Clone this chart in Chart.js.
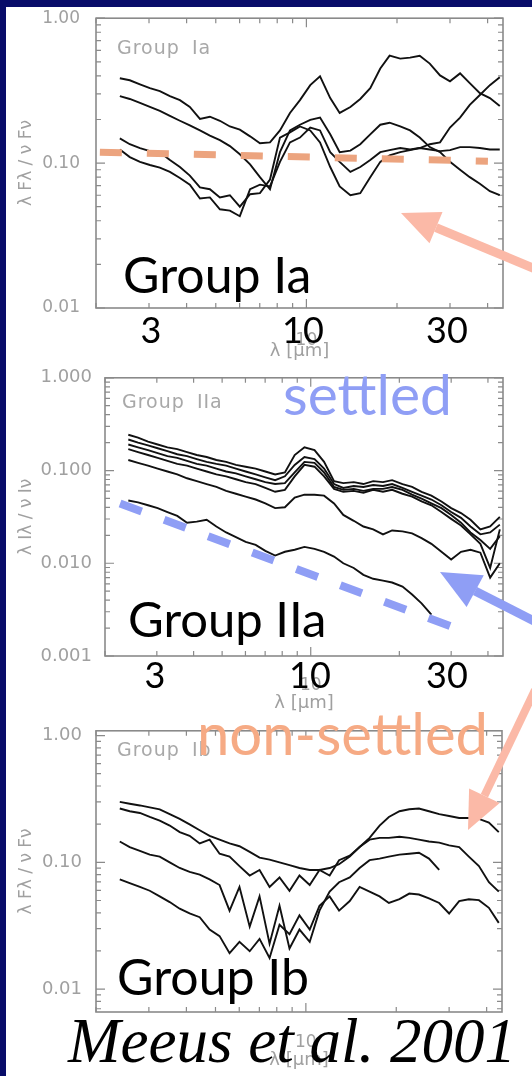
<!DOCTYPE html>
<html lang="en">
<head>
<meta charset="UTF-8">
<title>Meeus et al. 2001 – SED groups</title>
<script src="https://cdn.jsdelivr.net/npm/chart.js"></script>
<style>
  body { margin: 0; width: 532px; height: 1076px; overflow: hidden; position: relative; background: #080c69; }
  .sheet { position: absolute; left: 6px; top: 7px; right: 0; bottom: 0; background: #fff; }
  canvas { position: absolute; left: 0; filter: blur(0.4px); }
  #c1 { top: 0; }
  #c2 { top: 362px; }
  #c3 { top: 714px; }
  #notes { position: absolute; left: 0; top: 0; pointer-events: none; }
  .caption { filter: blur(0.4px); }
</style>
</head>
<body>
<div class="sheet"></div>
<canvas id="c1" width="532" height="362"></canvas>
<canvas id="c2" width="532" height="352"></canvas>
<canvas id="c3" width="532" height="362"></canvas>

<svg id="notes" width="532" height="1076" viewBox="0 0 532 1076">
  <!-- panel captions of the original figure -->
  <g class="caption" font-family="DejaVu Sans" font-size="19" fill="#a8a8a8" letter-spacing="1" word-spacing="5">
    <text x="117" y="54">Group Ia</text>
    <text x="122" y="408">Group IIa</text>
    <text x="117" y="756">Group Ib</text>
  </g>
  <!-- arrows -->
  <line x1="540" y1="271" x2="436" y2="227.6" stroke="#fbb9a7" stroke-width="9"/>
  <polygon points="401,213 442.5,212 429.5,243.3" fill="#fbb9a7"/>
  <line x1="540" y1="624" x2="475" y2="591" stroke="#8f9ef5" stroke-width="9"/>
  <polygon points="440,572 483.8,575.3 466.6,606.9" fill="#8f9ef5"/>
  <line x1="535" y1="690" x2="484.4" y2="795.7" stroke="#fbb9a7" stroke-width="8"/>
  <polygon points="468,830 499.7,803 469.1,788.4" fill="#fbb9a7"/>
  <!-- slide labels -->
  <g font-family="Lato" fill="#000">
    <text x="123" y="293" font-size="50">Group Ia</text>
    <text x="128" y="637" font-size="49">Group IIa</text>
    <text x="117" y="995" font-size="50">Group Ib</text>
    <g font-size="36" text-anchor="middle">
      <text x="151" y="343">3</text>
      <text x="303" y="343">10</text>
      <text x="447" y="343">30</text>
      <text x="155" y="688">3</text>
      <text x="310" y="688">10</text>
      <text x="447" y="688">30</text>
    </g>
  </g>
  <text x="283" y="415" font-family="Lato" font-size="57" fill="#8f9ef5">settled</text>
  <text x="197" y="755" font-family="Lato" font-size="58" fill="#f6aa84">non-settled</text>
  <text x="68" y="1062" font-family="Liberation Serif" font-style="italic" font-size="63" fill="#000">Meeus et al. 2001</text>
</svg>

<script>
  // wavelength grid (µm) shared by all spectra
  const lam = [2.40, 2.59, 2.80, 3.02, 3.26, 3.52, 3.80, 4.10, 4.43, 4.78,
               5.16, 5.57, 6.01, 6.50, 7.01, 7.57, 8.17, 8.82, 9.52, 10.3,
               11.1, 12.0, 12.9, 14.0, 15.1, 16.3, 17.6, 18.9, 20.5, 22.1,
               23.8, 25.7, 27.8, 30.0, 32.4, 34.9, 37.7, 40.7, 43.9];

  // Group Ia
  const ia1 = [0.385, 0.373, 0.350, 0.329, 0.314, 0.290, 0.272, 0.244, 0.202, 0.209,
               0.196, 0.179, 0.170, 0.153, 0.137, 0.139, 0.168, 0.222, 0.272, 0.345,
               0.397, 0.281, 0.222, 0.244, 0.277, 0.329, 0.450, 0.551, 0.526, 0.534,
               0.551, 0.486, 0.403, 0.367, 0.416, 0.356, 0.304, 0.281, 0.248];
  const ia2 = [0.290, 0.277, 0.260, 0.244, 0.229, 0.212, 0.196, 0.182, 0.168, 0.155,
               0.144, 0.131, 0.115, 0.098, 0.080, 0.066, 0.119, 0.168, 0.184, 0.199,
               0.206, 0.158, 0.119, 0.122, 0.135, 0.158, 0.184, 0.190, 0.179, 0.168,
               0.150, 0.129, 0.119, 0.102, 0.090, 0.080, 0.072, 0.064, 0.060];
  const ia3 = [0.148, 0.135, 0.127, 0.121, 0.119, 0.105, 0.094, 0.082, 0.068, 0.066,
               0.058, 0.060, 0.050, 0.061, 0.062, 0.077, 0.150, 0.163, 0.179, 0.168,
               0.139, 0.094, 0.069, 0.060, 0.062, 0.080, 0.102, 0.113, 0.119, 0.123,
               0.127, 0.124, 0.121, 0.123, 0.129, 0.129, 0.127, 0.124, 0.124];
  const ia4 = [0.124, 0.110, 0.102, 0.097, 0.093, 0.087, 0.079, 0.071, 0.057, 0.058,
               0.048, 0.047, 0.043, 0.066, 0.071, 0.069, 0.102, 0.139, 0.150, 0.176,
               0.168, 0.119, 0.102, 0.087, 0.094, 0.105, 0.119, 0.123, 0.127, 0.124,
               0.127, 0.135, 0.139, 0.176, 0.206, 0.252, 0.295, 0.345, 0.391];
  const iaFlatLam = [2.06, 40.1];
  const iaFlat = [0.119, 0.103];

  // Group IIa
  const iia1 = [0.243, 0.226, 0.205, 0.191, 0.178, 0.170, 0.158, 0.147, 0.140, 0.130,
                0.124, 0.115, 0.110, 0.105, 0.0977, 0.0908, 0.0953, 0.147, 0.178, 0.166,
                0.124, 0.0768, 0.0732, 0.0750, 0.0715, 0.0768, 0.0750, 0.0787, 0.0715, 0.0665,
                0.0590, 0.0536, 0.0464, 0.0393, 0.0348, 0.0294, 0.0232, 0.0249, 0.0316];
  const iia2 = [0.216, 0.200, 0.187, 0.174, 0.162, 0.150, 0.143, 0.133, 0.124, 0.118,
                0.113, 0.105, 0.0977, 0.0908, 0.0845, 0.0787, 0.0866, 0.115, 0.140, 0.133,
                0.105, 0.0715, 0.0649, 0.0681, 0.0665, 0.0698, 0.0681, 0.0715, 0.0649, 0.0590,
                0.0536, 0.0487, 0.0422, 0.0357, 0.0309, 0.0249, 0.0205, 0.0215, 0.0261];
  const iia3 = [0.191, 0.178, 0.166, 0.154, 0.143, 0.137, 0.127, 0.118, 0.113, 0.105,
                0.0977, 0.0931, 0.0866, 0.0806, 0.0750, 0.0715, 0.0732, 0.0953, 0.124, 0.121,
                0.0953, 0.0665, 0.0619, 0.0634, 0.0604, 0.0634, 0.0634, 0.0665, 0.0619, 0.0549,
                0.0499, 0.0442, 0.0393, 0.0332, 0.0274, 0.0215, 0.0178, 0.0143, 0.0196];
  const iia4 = [0.170, 0.158, 0.147, 0.137, 0.127, 0.118, 0.113, 0.105, 0.0977, 0.0908,
                0.0866, 0.0806, 0.0750, 0.0715, 0.0649, 0.0590, 0.0619, 0.0866, 0.115, 0.110,
                0.0866, 0.0634, 0.0590, 0.0604, 0.0576, 0.0619, 0.0590, 0.0619, 0.0562, 0.0523,
                0.0464, 0.0422, 0.0357, 0.0301, 0.0255, 0.0205, 0.0162, 0.0089, 0.0232];
  const iia5 = [0.130, 0.121, 0.113, 0.105, 0.0977, 0.0908, 0.0825, 0.0768, 0.0715, 0.0665,
                0.0604, 0.0562, 0.0523, 0.0487, 0.0442, 0.0393, 0.0402, 0.0511, 0.0549, 0.0549,
                0.0536, 0.0442, 0.0332, 0.0287, 0.0249, 0.0232, 0.0205, 0.0226, 0.0221, 0.0210,
                0.0187, 0.0162, 0.0133, 0.0110, 0.0133, 0.0140, 0.0130, 0.0070, 0.0100];
  const iia6 = [0.0475, 0.0453, 0.0422, 0.0393, 0.0357, 0.0324, 0.0274, 0.0281, 0.0294, 0.0249,
                0.0215, 0.0191, 0.0170, 0.0158, 0.0136, 0.0121, 0.0133, 0.0140, 0.0150, 0.0143,
                0.0133, 0.0118, 0.0100, 0.0089, 0.0075, 0.0068, 0.0065, 0.0062, 0.0056, 0.0046,
                0.0037, 0.0028, null, null, null, null, null, null, null];
  const iiaSlopeLam = [2.25, 29.8];
  const iiaSlope = [0.0442, 0.0021];

  // Group Ib
  const ib1 = [0.300, 0.290, 0.281, 0.271, 0.262, 0.240, 0.220, 0.199, 0.179, 0.162,
               0.151, 0.141, 0.134, 0.121, 0.109, 0.105, 0.100, 0.0950, 0.0902, 0.0871,
               0.0871, 0.0902, 0.0967, 0.111, 0.132, 0.156, 0.195, 0.228, 0.253, 0.262,
               0.266, 0.253, 0.240, 0.232, 0.224, 0.224, 0.220, 0.206, 0.173];
  const ib2 = [0.266, 0.253, 0.245, 0.228, 0.213, 0.195, 0.173, 0.162, 0.141, 0.151,
               0.117, 0.111, 0.0934, 0.0787, 0.0871, 0.0640, 0.0760, 0.0597, 0.0787, 0.0662,
               0.0871, 0.0787, 0.104, 0.113, 0.132, 0.151, 0.156, 0.156, 0.159, 0.156,
               0.151, 0.146, 0.143, 0.136, 0.132, 0.111, 0.0934, 0.0697, 0.0587];
  const ib3 = [0.146, 0.132, 0.123, 0.115, 0.111, 0.100, 0.0902, 0.0842, 0.0800, 0.0734,
               0.0662, 0.0416, 0.0640, 0.0311, 0.0539, 0.0228, 0.0454, 0.0209, 0.0295, 0.0236,
               0.0416, 0.0587, 0.0697, 0.0760, 0.0902, 0.104, 0.107, 0.111, 0.115, 0.117,
               0.119, 0.107, 0.0871, null, null, null, null, null, null];
  const ib4 = [0.0734, 0.0685, 0.0640, 0.0597, 0.0539, 0.0486, 0.0431, 0.0395, 0.0369, 0.0295,
               0.0262, 0.0192, 0.0236, 0.0199, 0.0249, 0.0176, 0.0322, 0.0271, 0.0382, 0.0295,
               0.0454, 0.0539, 0.0416, 0.0495, 0.0640, 0.0587, 0.0539, 0.0478, 0.0512, 0.0567,
               0.0557, 0.0520, 0.0478, 0.0395, 0.0495, 0.0512, 0.0503, 0.0438, 0.0333];

  const xLabelTicks = [10];
  const grey = '#a0a0a0';

  // box around the plot with IDL-style inward tick marks
  const frame = {
    id: 'frame',
    beforeDatasetsDraw(chart) {
      const { ctx, chartArea: a, scales: { x, y } } = chart;
      ctx.save();
      ctx.strokeStyle = '#8a8a8a';
      ctx.lineWidth = 1.6;
      ctx.strokeRect(a.left, a.top, a.right - a.left, a.bottom - a.top);
      ctx.lineWidth = 1.2;
      ctx.beginPath();
      for (let k = -3; k <= 1; k++) {
        for (let m = 1; m < 10; m++) {
          const v = m * Math.pow(10, k);
          const len = m === 1 ? 9 : 5;
          if (v >= y.min && v <= y.max) {
            const py = y.getPixelForValue(v);
            ctx.moveTo(a.left, py); ctx.lineTo(a.left + len, py);
            ctx.moveTo(a.right, py); ctx.lineTo(a.right - len, py);
          }
          if (v >= x.min && v <= x.max) {
            const px = x.getPixelForValue(v);
            ctx.moveTo(px, a.bottom); ctx.lineTo(px, a.bottom - len);
            ctx.moveTo(px, a.top); ctx.lineTo(px, a.top + len);
          }
        }
      }
      ctx.stroke();
      ctx.restore();
    }
  };

  function spectrum(vals) {
    return {
      data: lam.map((x, i) => ({ x, y: vals[i] })).filter(p => p.y != null),
      showLine: true,
      borderColor: '#111',
      borderWidth: 1.9,
      pointRadius: 0,
      order: 1
    };
  }

  function guide(xs, ys, color, dash, width) {
    return {
      data: xs.map((x, i) => ({ x, y: ys[i] })),
      showLine: true,
      borderColor: color,
      borderWidth: width,
      borderDash: dash,
      borderCapStyle: 'butt',
      pointRadius: 0,
      order: 0
    };
  }

  function drawPanel(id, p) {
    new Chart(document.getElementById(id), {
      type: 'scatter',
      data: { datasets: p.datasets },
      options: {
        responsive: false,
        animation: false,
        devicePixelRatio: 1,
        layout: { padding: { top: p.top, right: p.right, left: 0, bottom: 0 } },
        plugins: { legend: { display: false }, tooltip: { enabled: false } },
        scales: {
          x: {
            type: 'logarithmic',
            min: 2,
            max: 45,
            afterBuildTicks: s => { s.ticks = xLabelTicks.map(v => ({ value: v })); },
            afterFit: s => { s.height = p.xHeight; },
            grid: { display: false },
            border: { display: false },
            ticks: {
              autoSkip: false, maxRotation: 0, padding: p.xPad, color: grey,
              font: { family: 'DejaVu Sans', size: 17 },
              callback: v => String(v)
            },
            title: {
              display: true, text: 'λ [µm]', color: grey,
              font: { family: 'DejaVu Sans', size: 18 },
              padding: { top: 0, bottom: p.xTitlePad }
            }
          },
          y: {
            type: 'logarithmic',
            min: p.yMin,
            max: p.yMax,
            afterBuildTicks: s => { s.ticks = p.yTicks.map(v => ({ value: v })); },
            afterFit: s => { s.width = p.yWidth; },
            grid: { display: false },
            border: { display: false },
            ticks: {
              autoSkip: false, padding: p.yPad, color: grey,
              font: { family: 'DejaVu Sans', size: p.yFont },
              callback: v => v.toFixed(p.digits)
            },
            title: {
              display: true, text: p.yTitle, color: grey,
              font: { family: 'DejaVu Sans', size: 17 },
              padding: { top: 16, bottom: 0 }
            }
          }
        }
      },
      plugins: [frame]
    });
  }

  drawPanel('c1', {
    top: 14, right: 29, xHeight: 54, xPad: 14, xTitlePad: 0,
    yMin: 0.01, yMax: 1, yTicks: [0.01, 0.1, 1], digits: 2, yWidth: 96, yPad: 8, yFont: 17,
    yTitle: 'λ Fλ / ν Fν',
    datasets: [guide(iaFlatLam, iaFlat, '#eca47f', [22, 25], 7),
               spectrum(ia1), spectrum(ia2), spectrum(ia3), spectrum(ia4)]
  });

  drawPanel('c2', {
    top: 6, right: 29, xHeight: 58, xPad: 11, xTitlePad: 0,
    yMin: 0.001, yMax: 1, yTicks: [0.001, 0.01, 0.1, 1], digits: 3, yWidth: 105, yPad: 5, yFont: 18,
    yTitle: 'λ Iλ / ν Iν',
    datasets: [guide(iiaSlopeLam, iiaSlope, '#8f9ef5', [23, 24], 8),
               spectrum(iia1), spectrum(iia2), spectrum(iia3),
               spectrum(iia4), spectrum(iia5), spectrum(iia6)]
  });

  drawPanel('c3', {
    top: 1, right: 30, xHeight: 64, xPad: 12, xTitlePad: 5,
    yMin: 0.0066, yMax: 1.09, yTicks: [0.01, 0.1, 1], digits: 2, yWidth: 96, yPad: 6, yFont: 18,
    yTitle: 'λ Fλ / ν Fν',
    datasets: [spectrum(ib1), spectrum(ib2), spectrum(ib3), spectrum(ib4)]
  });
</script>
</body>
</html>
